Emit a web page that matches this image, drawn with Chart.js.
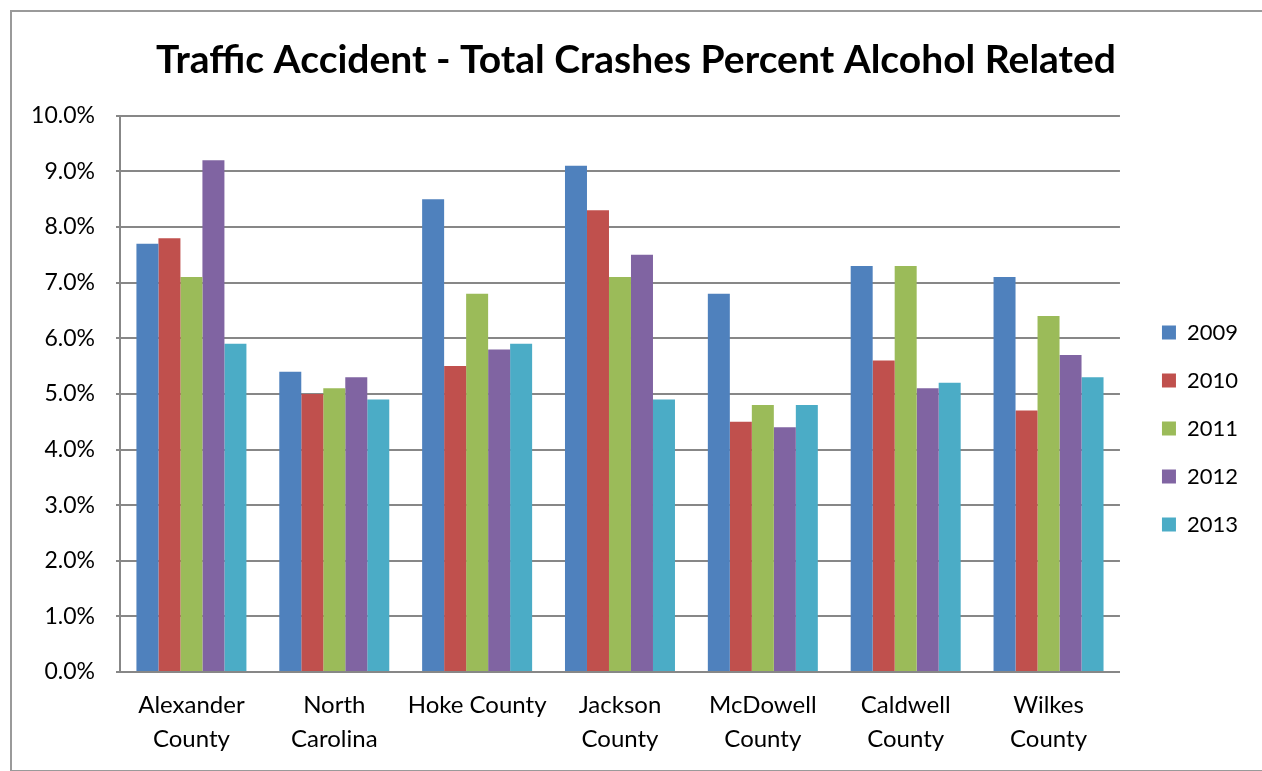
<!DOCTYPE html>
<html>
<head>
<meta charset="utf-8">
<script src="https://cdn.jsdelivr.net/npm/chart.js@4.4.0/dist/chart.umd.min.js"></script>
<style>
  body { margin: 0; background: #fff; }
  #frame { position: absolute; left: 10px; top: 10px; width: 1300px; height: 758px; border: 2px solid #9a9a9a; }
  #wrap { position: absolute; left: 0; top: 0; width: 1262px; height: 771px; }
</style>
</head>
<body>
<div id="frame"></div>
<div id="wrap"><canvas id="myChart"></canvas></div>
<script>
var categories = [
  ["Alexander", "County"],
  ["North", "Carolina"],
  "Hoke County",
  ["Jackson", "County"],
  ["McDowell", "County"],
  ["Caldwell", "County"],
  ["Wilkes", "County"]
];
var years = ["2009", "2010", "2011", "2012", "2013"];
var colors = ["#4F81BD", "#C0504D", "#9BBB59", "#8064A2", "#4BACC6"];

// percent alcohol related, one array per year
var y2009 = [7.7, 5.4, 8.5, 9.1, 6.8, 7.3, 7.1];
var y2010 = [7.8, 5.0, 5.5, 8.3, 4.5, 5.6, 4.7];
var y2011 = [7.1, 5.1, 6.8, 7.1, 4.8, 7.3, 6.4];
var y2012 = [9.2, 5.3, 5.8, 7.5, 4.4, 5.1, 5.7];
var y2013 = [5.9, 4.9, 5.9, 4.9, 4.8, 5.2, 5.3];
var series = [y2009, y2010, y2011, y2012, y2013];

var fontFamily = "Lato, 'Open Sans', sans-serif";

var datasets = years.map(function (yr, i) {
  return {
    label: yr,
    data: series[i],
    backgroundColor: colors[i],
    borderWidth: 0,
    categoryPercentage: 0.77,
    barPercentage: 1.0
  };
});

// make the legend a bit wider, then nudge it down and right like the excel one
var legendShift = {
  id: 'legendShift',
  beforeLayout: function (chart) {
    var lg = chart.legend;
    if (!lg || lg._wider) return;
    var fit = lg.fit;
    lg.fit = function () { fit.call(this); this.width += 10; };
    lg._wider = true;
  },
  afterLayout: function (chart) {
    var lg = chart.legend;
    if (!lg) return;
    lg.left += 16; lg.right += 16;
    lg.top += 43; lg.bottom += 43;
  }
};

var ctx = document.getElementById("myChart");
var myChart = new Chart(ctx, {
  type: 'bar',
  data: {
    labels: categories,
    datasets: datasets
  },
  plugins: [legendShift],
  options: {
    responsive: true,
    maintainAspectRatio: false,
    animation: false,
    layout: {
      padding: { left: 30, right: 20, top: 0, bottom: 0 }
    },
    plugins: {
      title: {
        display: true,
        text: "Traffic Accident - Total Crashes Percent Alcohol Related",
        color: "#000",
        font: { family: fontFamily, size: 39, weight: 'bold' },
        padding: { top: 37, bottom: 32 }
      },
      legend: {
        position: 'right',
        labels: {
          boxWidth: 14,
          boxHeight: 14,
          padding: 26,
          color: "#000",
          font: { family: fontFamily, size: 22 }
        }
      },
      tooltip: { enabled: false }
    },
    scales: {
      x: {
        grid: { display: false, drawTicks: false },
        border: { display: true, color: "#878787", width: 2 },
        ticks: {
          color: "#000",
          padding: 16,
          maxRotation: 0,
          autoSkip: false,
          font: { family: fontFamily, size: 24, lineHeight: 1.42 }
        },
        afterFit: function (scale) { scale.height = 99; }
      },
      y: {
        min: 0,
        max: 10,
        grid: { color: "#878787", lineWidth: 2, tickLength: 4 },
        border: { display: true, color: "#878787", width: 2 },
        ticks: {
          stepSize: 1,
          color: "#000",
          padding: 21,
          font: { family: fontFamily, size: 23 },
          callback: function (v) { return v.toFixed(1) + "%"; }
        },
        afterFit: function (scale) { scale.width = 90; }
      }
    }
  }
});
</script>
</body>
</html>
